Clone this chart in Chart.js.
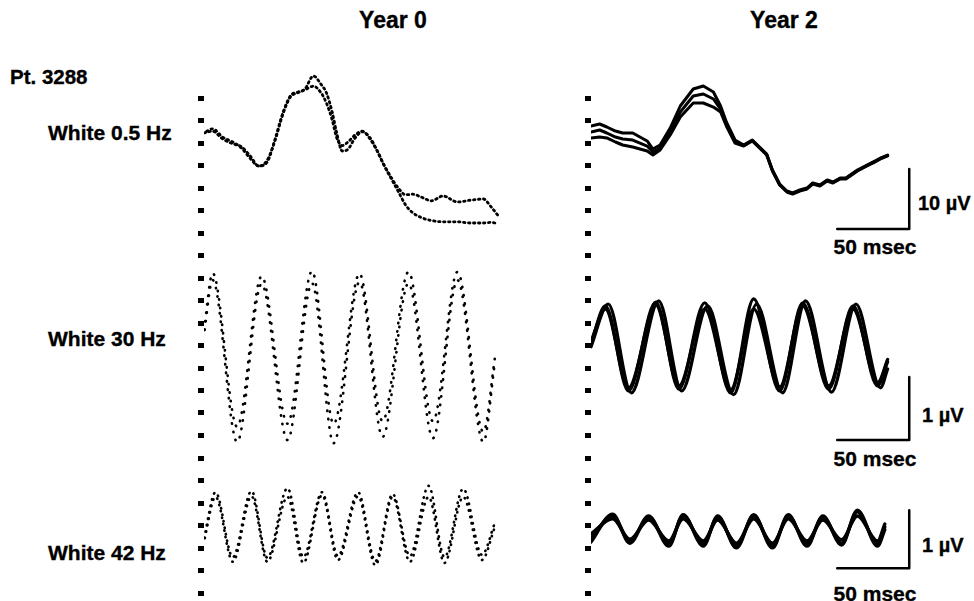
<!DOCTYPE html>
<html>
<head>
<meta charset="utf-8">
<script src="https://cdn.jsdelivr.net/npm/chart.js@4"></script>
<style>
  html, body { margin:0; padding:0; background:#fff; }
  body { width:974px; height:601px; position:relative; overflow:hidden;
         font-family:"Liberation Sans", Arial, Helvetica, sans-serif; font-weight:bold; color:#000; }
  .lbl { position:absolute; white-space:nowrap; transform:translateY(-50%); line-height:1;
         -webkit-text-stroke:0.35px #000; }
  .ctr { transform:translate(-50%,-50%); }
  .box { position:absolute; top:0; height:601px; }
</style>
</head>
<body>
<div class="lbl ctr" style="left:393px;top:20px;font-size:23px;">Year 0</div>
<div class="lbl ctr" style="left:784px;top:20px;font-size:23px;">Year 2</div>
<div class="lbl" style="left:10px;top:77px;font-size:20.5px;">Pt. 3288</div>
<div class="lbl" style="left:48px;top:132px;font-size:21px;">White 0.5 Hz</div>
<div class="lbl" style="left:48px;top:338px;font-size:21px;">White 30 Hz</div>
<div class="lbl" style="left:48px;top:552px;font-size:21px;">White 42 Hz</div>
<div class="lbl" style="left:918px;top:203px;font-size:20px;">10 µV</div>
<div class="lbl ctr" style="left:875px;top:246px;font-size:21px;">50 msec</div>
<div class="lbl" style="left:922px;top:415px;font-size:20px;">1 µV</div>
<div class="lbl ctr" style="left:875px;top:458px;font-size:21px;">50 msec</div>
<div class="lbl" style="left:922px;top:545px;font-size:20px;">1 µV</div>
<div class="lbl ctr" style="left:875px;top:593px;font-size:21px;">50 msec</div>

<div class="box" style="left:197px;width:380px;"><canvas id="c0"></canvas></div>
<div class="box" style="left:584px;width:390px;"><canvas id="c2"></canvas></div>

<script>
// ---------------- DATA (msec, µV) ----------------
// Year 0, White 0.5 Hz (two repeated traces)
const t05y0 = [0,6,13,20,26,32,38,44,49,55,60,65,70,76,81,85,89,92,96,100,105,110,115,120,125,130,135,140,145,151,158,166,176,185,194,199,204];
const v05y0a = [-0.5,-0.2,-1.5,-2.3,-2.8,-4.3,-6.0,-5.0,-2.0,2.8,5.5,6.2,6.8,9.0,7.7,6.2,3.0,-0.3,-3.5,-3.2,-1.3,-0.3,-1.2,-3.3,-5.8,-7.9,-9.7,-10.8,-10.7,-11.2,-11.8,-11.0,-12.0,-11.7,-11.5,-12.7,-14.2];
const v05y0b = [-0.5,0.2,-1.2,-2.0,-3.0,-4.7,-6.0,-5.3,-1.8,3.0,5.7,6.3,6.7,7.3,6.3,4.5,1.7,-1.2,-2.6,-2.0,-0.8,-0.2,-1.4,-3.4,-5.9,-8.1,-10.3,-12.5,-13.8,-14.6,-15.1,-15.3,-15.3,-15.5,-15.5,-15.4,-15.6];

// Year 0, White 30 Hz (turning points)
const t30y0 = [0,6,23,40,58,75,90,108,124,142,159,176,194,202];
const v30y0a = [0.32,1.22,-1.22,1.17,-1.17,1.25,-1.17,1.21,-1.13,1.24,-1.13,1.24,-1.30,-0.13];
const v30y0b = [0.25,1.11,-1.46,1.05,-1.43,1.06,-1.48,1.08,-1.38,1.06,-1.40,1.11,-1.46,-0.20];

// Year 0, White 42 Hz (turning points)
const t42y0 = [0,8,20,33,44,58,69,82,93,107,119,131,143,156,167,180,193,202];
const v42y0a = [-0.19,0.60,-0.52,0.62,-0.53,0.67,-0.52,0.60,-0.50,0.60,-0.59,0.57,-0.50,0.71,-0.52,0.66,-0.48,0.07];
const v42y0b = [-0.25,0.52,-0.60,0.53,-0.60,0.52,-0.62,0.55,-0.57,0.53,-0.66,0.52,-0.60,0.52,-0.62,0.52,-0.57,0.00];

// Year 2, White 0.5 Hz (three repeated traces)
const t05y2 = [0,6,11,17,22,29,34,39,43,48,55,62,71,78,85,90,94,100,106,112,117,122,126,131,136,140,145,150,154,159,164,168,173,177,180,185,189,193,196,201,206];
const v05y2a = [0.67,1.0,0.5,-0.17,-0.5,-0.5,-1.17,-1.83,-3.17,-2.5,0.33,4.0,6.83,7.33,6.33,4.0,1.33,-1.67,-2.5,-1.67,-2.83,-4.0,-6.67,-9.0,-10.17,-10.5,-10.0,-9.67,-8.83,-9.17,-8.33,-8.67,-8.0,-8.0,-7.5,-6.67,-6.17,-5.67,-5.33,-4.67,-4.17];
const v05y2b = [-0.33,0,-0.5,-1.17,-1.5,-1.67,-2.17,-2.67,-3.67,-3.0,-0.33,3.0,5.67,6.0,5.17,3.5,1.0,-1.83,-2.6,-1.75,-2.9,-4.1,-6.75,-9.1,-10.25,-10.6,-10.1,-9.75,-8.9,-9.25,-8.4,-8.75,-8.1,-8.1,-7.6,-6.75,-6.25,-5.75,-5.4,-4.75,-4.25];
const v05y2c = [-1.33,-1.17,-1.33,-2.0,-2.5,-2.83,-3.17,-3.5,-4.17,-3.33,-0.83,2.17,4.5,4.5,3.83,3.0,0.67,-2.17,-2.67,-1.83,-3.0,-4.17,-6.83,-9.17,-10.33,-10.67,-10.17,-9.83,-9.0,-9.33,-8.5,-8.83,-8.17,-8.17,-7.67,-6.83,-6.33,-5.83,-5.5,-4.83,-4.33];

// Year 2, White 30 Hz (turning points)
const t30y2 = [0,10,26,45,61,79,97,113,131,147,165,182,199,206];
const t30y2c = [0,12,28,47,63,81,99,115,133,149,167,184,201,206];
const v30y2a = [0.10,0.70,-0.65,0.76,-0.62,0.75,-0.68,0.81,-0.65,0.75,-0.62,0.70,-0.57,-0.19];
const v30y2b = [0.14,0.65,-0.60,0.71,-0.57,0.65,-0.63,0.65,-0.59,0.70,-0.57,0.65,-0.52,-0.15];
const v30y2c = [0.05,0.73,-0.68,0.78,-0.65,0.70,-0.71,0.73,-0.68,0.78,-0.67,0.73,-0.60,-0.30];

// Year 2, White 42 Hz (turning points)
const t42y2 = [0,15,27,40,54,64,78,88,101,113,126,137,150,161,174,185,199,204];
const v42y2a = [-0.19,0.19,-0.24,0.17,-0.29,0.19,-0.29,0.17,-0.33,0.19,-0.33,0.19,-0.29,0.17,-0.28,0.26,-0.29,0.00];
const v42y2b = [-0.12,0.14,-0.21,0.12,-0.24,0.14,-0.24,0.12,-0.28,0.14,-0.28,0.14,-0.24,0.12,-0.22,0.19,-0.24,0.05];
const v42y2c = [-0.26,0.22,-0.28,0.19,-0.33,0.21,-0.33,0.19,-0.36,0.21,-0.36,0.21,-0.33,0.19,-0.31,0.29,-0.33,-0.05];

// Calibration bars: 50 msec horizontal, 10 µV / 1 µV / 1 µV vertical
const barTime = [171, 221, 221];
const bar05 = [-16.5, -16.5, -6.5];
const bar30 = [-1.43, -1.43, -0.43];
const bar42 = [-0.71, -0.71, 0.29];

// ---------------- LAYOUT ----------------
const H = 601;
const PX_PER_MS = 1.44;
const AXIS_W = 7;
const panelY = {
  y05: { base: 130, pxPerUv: 6 },
  y30: { base: 350, pxPerUv: 63 },
  y42: { base: 527, pxPerUv: 58 }
};
const DOT_FIRST = 98, DOT_STEP = 22.5, DOT_COUNT = 23;

const xy = (t, v) => t.map((x, i) => ({ x, y: v[i] }));

function scalesFor(width) {
  const s = {
    x: { type: 'linear', display: false, min: 0, max: (width - AXIS_W) / PX_PER_MS },
    yd: {
      type: 'linear', position: 'left', reverse: true, min: 0, max: H,
      afterBuildTicks: sc => { sc.ticks = Array.from({ length: DOT_COUNT }, (_, i) => ({ value: DOT_FIRST + DOT_STEP * i })); },
      afterFit: sc => { sc.width = AXIS_W; },
      border: { display: false },
      grid: { drawOnChartArea: false, drawTicks: true, tickLength: 6, lineWidth: 5, color: '#000' },
      ticks: { display: false }
    }
  };
  for (const id in panelY) {
    const p = panelY[id];
    s[id] = { type: 'linear', display: false, min: -(H - p.base) / p.pxPerUv, max: p.base / p.pxPerUv };
  }
  return s;
}

const dotted = (data, yAxisID, w, dash, offset) => ({
  data, yAxisID, xAxisID: 'x', borderColor: '#000', borderWidth: w, borderDash: dash,
  borderDashOffset: offset || 0,
  borderCapStyle: 'round', pointRadius: 0, cubicInterpolationMode: 'monotone', fill: false
});
const solid = (data, yAxisID, w, mono) => ({
  data, yAxisID, xAxisID: 'x', borderColor: '#000', borderWidth: w,
  borderCapStyle: 'round', borderJoinStyle: 'round', pointRadius: 0,
  cubicInterpolationMode: mono ? 'monotone' : 'default', tension: 0, fill: false
});

const common = (width) => ({
  responsive: true, maintainAspectRatio: false, animation: false,
  devicePixelRatio: 1,
  layout: { padding: 0 },
  plugins: { legend: { display: false }, tooltip: { enabled: false }, title: { display: false } },
  scales: scalesFor(width)
});

new Chart(document.getElementById('c0'), {
  type: 'line',
  data: { datasets: [
    dotted(xy(t05y0, v05y0a), 'y05', 2.8, [1.5, 3.5]),
    dotted(xy(t05y0, v05y0b), 'y05', 2.8, [1.5, 3.5], 2),
    dotted(xy(t30y0, v30y0a), 'y30', 2.6, [0.5, 8]),
    dotted(xy(t30y0, v30y0b), 'y30', 2.6, [0.5, 8], 4),
    dotted(xy(t42y0, v42y0a), 'y42', 2.6, [0.5, 6]),
    dotted(xy(t42y0, v42y0b), 'y42', 2.6, [0.5, 6], 3)
  ]},
  options: common(380)
});

new Chart(document.getElementById('c2'), {
  type: 'line',
  data: { datasets: [
    solid(xy(t05y2, v05y2a), 'y05', 3, false),
    solid(xy(t05y2, v05y2b), 'y05', 3, false),
    solid(xy(t05y2, v05y2c), 'y05', 3, false),
    solid(xy(t30y2, v30y2a), 'y30', 3.2, true),
    solid(xy(t30y2, v30y2b), 'y30', 3.2, true),
    solid(xy(t30y2c, v30y2c), 'y30', 3.2, true),
    solid(xy(t42y2, v42y2a), 'y42', 3.4, true),
    solid(xy(t42y2, v42y2b), 'y42', 3.4, true),
    solid(xy(t42y2, v42y2c), 'y42', 3.4, true),
    solid(xy(barTime, bar05), 'y05', 2.5, false),
    solid(xy(barTime, bar30), 'y30', 2.5, false),
    solid(xy(barTime, bar42), 'y42', 2.5, false)
  ]},
  options: common(390)
});
</script>
</body>
</html>
